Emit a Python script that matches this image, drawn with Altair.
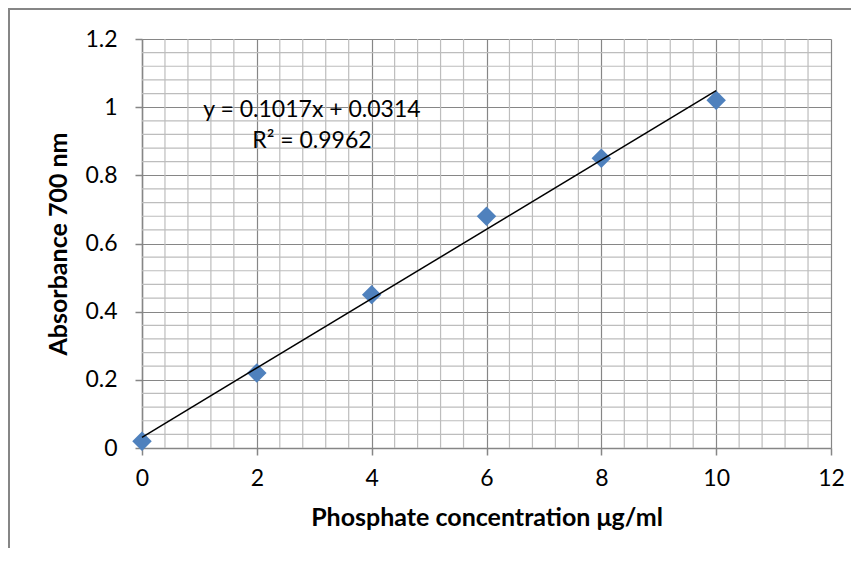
import altair as alt
import pandas as pd

# ---- data ----
concentration = [0, 2, 4, 6, 8, 10]
absorbance = [0.02, 0.22, 0.45, 0.68, 0.85, 1.02]

slope = 0.1017
intercept = 0.0314
trend_x = [0, 10]
trend_y = [intercept + slope * v for v in trend_x]

eq_labels = ["y = 0.1017x + 0.0314", "R² = 0.9962"]
eq_x = [2.96, 2.96]
eq_y = [0.993, 0.90]

x_ticks = [0, 2, 4, 6, 8, 10, 12]
y_ticks = [0, 0.2, 0.4, 0.6, 0.8, 1.0, 1.2]
x_minor = [i * 0.4 for i in range(31) if i % 5]
y_minor = [i * 0.04 for i in range(31) if i % 5]

W, H = 689, 409
FONT = "Lato"
MAJOR = "#868686"
MINOR = "#bdbdbd"

pts = pd.DataFrame({"x": concentration, "y": absorbance})
trend = pd.DataFrame({"x": trend_x, "y": trend_y})
eq = pd.DataFrame({"x": eq_x, "y": eq_y, "t": eq_labels})
vx = pd.DataFrame({"x": x_minor})
hy = pd.DataFrame({"y": y_minor})

xs = alt.Scale(domain=[0, 12], nice=False, zero=False)
ys = alt.Scale(domain=[0, 1.2], nice=False, zero=False)

x_axis = alt.Axis(
    values=x_ticks,
    title="Phosphate concentration μg/ml",
    grid=True,
    tickSize=7,
    labelPadding=12,
    labelFlush=False,
    titleX=W / 2,
    titleY=69,
    titleBaseline="middle",
    titleAlign="center",
)
y_axis = alt.Axis(
    values=y_ticks,
    title="Absorbance 700 nm",
    grid=True,
    tickSize=7,
    labelPadding=18,
    labelFlush=False,
    labelExpr="format(datum.value, '~g')",
    titleAngle=270,
    titleX=-84,
    titleY=H / 2,
    titleBaseline="middle",
    titleAlign="center",
)


def X():
    return alt.X("x:Q", scale=xs, axis=x_axis)


def Y():
    return alt.Y("y:Q", scale=ys, axis=y_axis)


minor_v = alt.Chart(vx).mark_rule(color=MINOR, strokeWidth=1.2).encode(
    x=X(), y=alt.value(0), y2=alt.value(H)
)
minor_h = alt.Chart(hy).mark_rule(color=MINOR, strokeWidth=1.2).encode(
    y=Y(), x=alt.value(0), x2=alt.value(W)
)

points = alt.Chart(pts).mark_point(
    shape="diamond", filled=True, size=380, color="#4f81bd", opacity=1
).encode(x=X(), y=Y())

line = alt.Chart(trend).mark_line(color="black", strokeWidth=1.5).encode(x=X(), y=Y())

text = alt.Chart(eq).mark_text(
    font=FONT, fontSize=23, align="center", baseline="middle", color="black"
).encode(x=X(), y=Y(), text="t:N")

frame_left = alt.Chart(pts).mark_rule(color=MAJOR, strokeWidth=1.5).encode(
    x=alt.value(-133), y=alt.value(-30), y2=alt.value(H + 125)
)
frame_top = alt.Chart(pts).mark_rule(color=MAJOR, strokeWidth=1.5).encode(
    y=alt.value(-30), x=alt.value(-134), x2=alt.value(W + 20)
)

chart = (
    alt.layer(frame_left, frame_top, minor_v, minor_h, points, line, text)
    .properties(
        width=W,
        height=H,
        padding={"left": 134, "top": 31, "right": 20, "bottom": 100},
        autosize=alt.AutoSizeParams(type="none"),
    )
    .configure_view(stroke=None)
    .configure_axis(
        labelFont=FONT,
        labelFontSize=23,
        labelColor="black",
        titleFont=FONT,
        titleFontSize=25,
        titleFontWeight="bold",
        titleColor="black",
        tickColor=MAJOR,
        domainColor=MAJOR,
        gridColor=MAJOR,
        gridWidth=1.2,
        domainWidth=1.5,
        tickWidth=1.5,
    )
)

chart.save("out.html", embed_options={"renderer": "svg", "actions": False})
